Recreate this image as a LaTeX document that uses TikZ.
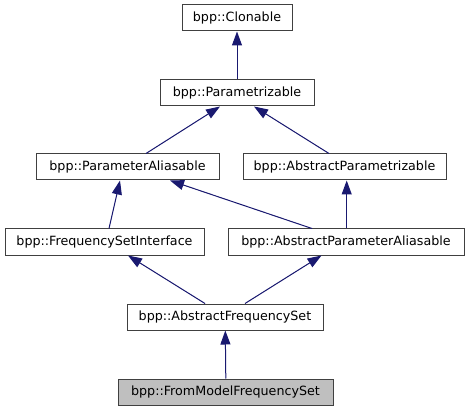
\documentclass[tikz,border=0pt]{standalone}
\usepackage{fontspec}
\setmainfont{DejaVu Sans}
\usetikzlibrary{arrows.meta}
\definecolor{edgeblue}{HTML}{191970}
\definecolor{boxline}{HTML}{404040}
\definecolor{boxgrey}{HTML}{BFBFBF}
\begin{document}
\begin{tikzpicture}[x=1pt,y=-1pt,
  cls/.style={draw=boxline, line width=1pt, fill=white, rectangle, inner sep=0pt,
    minimum height=26pt, font=\fontsize{12.7}{14}\selectfont, text=black},
  inh/.style={draw=edgeblue, line width=1pt, -{Triangle[length=14pt,width=10pt]}, fill=edgeblue}]
\useasboundingbox (0,0) rectangle (470,411);
\node[cls, minimum width=110pt] (clon) at (237,18) {bpp::Clonable};
\node[cls, minimum width=154pt] (param) at (237,93) {bpp::Parametrizable};
\node[cls, minimum width=183pt] (pa) at (127.5,167) {bpp::ParameterAliasable};
\node[cls, minimum width=203pt] (ap) at (344.5,167) {bpp::AbstractParametrizable};
\node[cls, minimum width=199pt] (fsi) at (104.5,242) {bpp::FrequencySetInterface};
\node[cls, minimum width=236pt] (apa) at (346,242) {bpp::AbstractParameterAliasable};
\node[cls, minimum width=196pt] (afs) at (225,317) {bpp::AbstractFrequencySet};
\node[cls, minimum width=215pt, fill=boxgrey] (fmfs) at (225.5,392) {bpp::FromModelFrequencySet};
\draw[inh] (param.north) -- (clon.south);
\draw[inh] ([xshift=18.5pt]pa.north) -- ([xshift=-17pt]param.south);
\draw[inh] ([xshift=-15.5pt]ap.north) -- ([xshift=17pt]param.south);
\draw[inh] ([xshift=4.5pt]fsi.north) -- ([xshift=-7.5pt]pa.south);
\draw[inh] ([xshift=-34pt]apa.north) -- ([xshift=42.5pt]pa.south);
\draw[inh] ([xshift=0.7pt]apa.north) -- ([xshift=2.2pt]ap.south);
\draw[inh] ([xshift=-20pt]afs.north) -- ([xshift=23.5pt]fsi.south);
\draw[inh] ([xshift=20pt]afs.north) -- ([xshift=-24.5pt]apa.south);
\draw[inh] ([xshift=0.3pt]fmfs.north) -- ([xshift=0.3pt]afs.south);
\end{tikzpicture}
\end{document}
